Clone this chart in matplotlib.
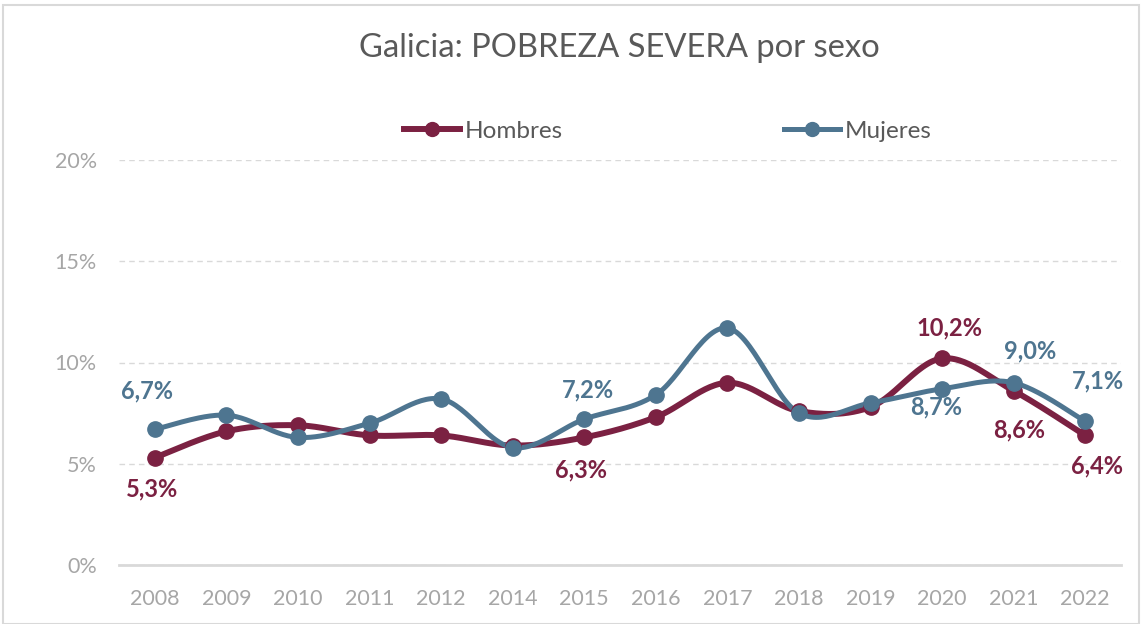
import numpy as np
import matplotlib.pyplot as plt
from matplotlib.patches import Rectangle

plt.rcParams['font.family'] = ['Lato', 'DejaVu Sans']

years = ['2008', '2009', '2010', '2011', '2012', '2014', '2015', '2016',
         '2017', '2018', '2019', '2020', '2021', '2022']
hombres = [5.3, 6.6, 6.9, 6.4, 6.4, 5.9, 6.3, 7.3, 9.0, 7.6, 7.8, 10.2, 8.6, 6.4]
mujeres = [6.7, 7.4, 6.3, 7.0, 8.2, 5.8, 7.2, 8.4, 11.7, 7.5, 8.0, 8.7, 9.0, 7.1]

c_h = '#7B2142'
c_m = '#4E7590'

# which points get a label, and offset in pixels (dx, dy)
lab_h = {0: (-3, -31), 6: (-3, -32), 11: (7, 31), 12: (5, -39), 13: (12, -31)}
lab_m = {0: (-8, 38), 6: (4, 29), 11: (-6, -18), 12: (16, 32), 13: (13, 40)}


def smooth(y, n=30):
    # Catmull-Rom style bezier, like spreadsheet smoothed lines
    y = np.asarray(y, float)
    x = np.arange(len(y), dtype=float)
    p = np.column_stack([x, y])
    out = []
    for i in range(len(p) - 1):
        p0 = p[i - 1] if i > 0 else p[i]
        p1, p2 = p[i], p[i + 1]
        p3 = p[i + 2] if i + 2 < len(p) else p[i + 1]
        c1 = p1 + (p2 - p0) / 6
        c2 = p2 - (p3 - p1) / 6
        t = np.linspace(0, 1, n)[:, None]
        seg = (1 - t) ** 3 * p1 + 3 * (1 - t) ** 2 * t * c1 + 3 * (1 - t) * t ** 2 * c2 + t ** 3 * p2
        out.append(seg)
    s = np.vstack(out)
    return s[:, 0], s[:, 1]


fig = plt.figure(figsize=(11.42, 6.24), dpi=100)
ax = fig.add_axes([119 / 1142, 1 - 565 / 624, (1121 - 119) / 1142, (565 - 160) / 624])

x = np.arange(len(years))
series = [(hombres, c_h, 'Hombres', lab_h, 4.3), (mujeres, c_m, 'Mujeres', lab_m, 3.6)]
for vals, col, name, labs, lw in series:
    sx, sy = smooth(vals)
    ax.plot(sx, sy, color=col, lw=lw, solid_capstyle='round', zorder=3)
    ax.plot(x, vals, 'o', color=col, ms=11, zorder=4)
    ax.plot([], [], '-o', color=col, lw=lw, ms=10, label=name)
    for i, (dx, dy) in labs.items():
        ax.annotate(f'{vals[i]:.1f}%'.replace('.', ','), (x[i], vals[i]),
                    xytext=(dx * 0.72, dy * 0.72), textcoords='offset points',
                    ha='center', va='center', fontsize=17, fontweight='bold',
                    color=col, zorder=5)

ax.set_xlim(-0.5, len(years) - 0.5)
ax.set_ylim(0, 20)
ax.set_xticks(x)
ax.set_xticklabels(years)
ax.set_yticks([0, 5, 10, 15, 20])
ax.set_yticklabels([f'{v}%' for v in [0, 5, 10, 15, 20]])
ax.tick_params(axis='both', length=0, labelsize=15.5, colors='#A6A6A6')
ax.tick_params(axis='x', pad=17)
ax.tick_params(axis='y', pad=16)
ax.grid(axis='y', color='#D9D9D9', ls=(0, (4, 3)), lw=1)
ax.set_axisbelow(True)
for s in ['top', 'right', 'left']:
    ax.spines[s].set_visible(False)
ax.spines['bottom'].set_color('#D9D9D9')
ax.spines['bottom'].set_linewidth(2)

fig.text(0.542, 1 - 48 / 624, 'Galicia: POBREZA SEVERA por sexo', ha='center', va='center',
         fontsize=23.6, color='#595959')
fig.legend(loc='center', bbox_to_anchor=(0.585, 1 - 131 / 624), ncol=2, frameon=False,
           fontsize=17.5, labelcolor='#595959', handlelength=2.3, handletextpad=0.2,
           columnspacing=9.1)

fig.patches.append(Rectangle((3 / 1142, 0), 1 - 6 / 1142, 1 - 5 / 624, transform=fig.transFigure,
                             fill=False, edgecolor='#D9D9D9', lw=1.5))

fig.savefig('out.png', dpi=100)
